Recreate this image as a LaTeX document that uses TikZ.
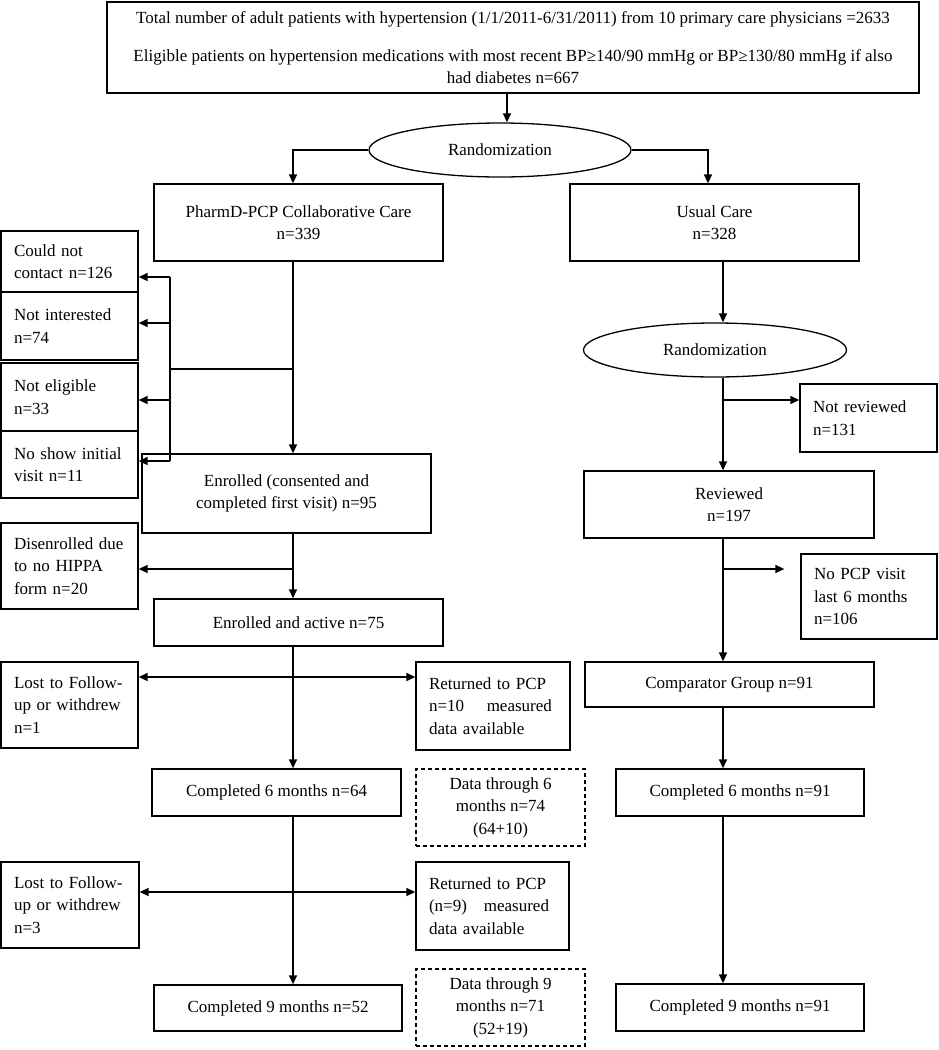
\documentclass[tikz,border=0pt]{standalone}
\usepackage{fontspec}
\setmainfont{Liberation Serif}
\usetikzlibrary{arrows.meta,shapes.geometric}
\begin{document}
\begin{tikzpicture}[x=1pt,y=-1pt,
  every node/.style={font=\fontsize{17}{22.5}\selectfont, inner sep=0pt},
  box/.style={draw, line width=1.3pt, rectangle, align=center},
  lbox/.style={draw, line width=1.3pt, rectangle, align=left, inner xsep=13pt},
  dbox/.style={draw, line width=1.1pt, dash pattern=on 4pt off 3pt, align=center},
  oval/.style={draw, line width=1.3pt, ellipse},
  line/.style={line width=1.4pt},
  arr/.style={line width=1.4pt, -{Triangle[length=9pt,width=8pt]}},
  darr/.style={line width=1.4pt, {Triangle[length=9pt,width=8pt]}-{Triangle[length=9pt,width=8pt]}},
]
\useasboundingbox (0,0) rectangle (938,1050);

% top
\node[box, minimum width=812, minimum height=91] (top) at (513,47.5)
  {Total number of adult patients with hypertension (1/1/2011-6/31/2011) from 10 primary care physicians =2633\\[15.5pt]
   Eligible patients on hypertension medications with most recent BP≥140/90 mmHg or BP≥130/80 mmHg if also\\
   had diabetes n=667};
\node[oval, minimum width=262, minimum height=54] (r1) at (500,150) {Randomization};
\node[box, minimum width=289, minimum height=77] (pharm) at (298.5,222.5) {PharmD-PCP Collaborative Care\\n=339};
\node[box, minimum width=289, minimum height=77] (usual) at (714.5,222.5) {Usual Care\\n=328};

% left exclusions
\node[lbox, text width=111, minimum height=61] (c1) at (69.5,261.5) {Could not\\contact n=126};
\node[lbox, text width=111, minimum height=68] (c2) at (69.5,326) {Not interested\\n=74};
\node[lbox, text width=111, minimum height=68] (c3) at (69.5,397) {Not eligible\\n=33};
\node[lbox, text width=111, minimum height=67] (c4) at (69.5,464.5) {No show initial\\visit n=11};
\node[box, minimum width=289, minimum height=79] (enr) at (286.5,493.5) {Enrolled (consented and\\completed first visit) n=95};
\node[lbox, text width=111, minimum height=86] (dis) at (69.5,566) {Disenrolled due\\to no HIPPA\\form n=20};
\node[box, minimum width=289, minimum height=47] (act) at (298.5,622.5) {Enrolled and active n=75};
\node[lbox, text width=111, minimum height=86] (lost1) at (69.5,705) {Lost to Follow-\\up or withdrew\\n=1};
\node[lbox, text width=128, minimum height=88] (ret1) at (493,706) {Returned to PCP\\n=10\ \ \ \ measured\\data available};
\node[box, minimum width=249, minimum height=47] (comp6) at (276.5,792.5) {Completed 6 months n=64};
\node[dbox, minimum width=169, minimum height=77] (data6) at (500.5,807.5) {Data through 6\\months n=74\\(64+10)};
\node[lbox, text width=112, minimum height=86] (lost2) at (70,905) {Lost to Follow-\\up or withdrew\\n=3};
\node[lbox, text width=127, minimum height=88] (ret2) at (492.5,906) {Returned to PCP\\(n=9)\ \ \ measured\\data available};
\node[box, minimum width=248, minimum height=46] (comp9) at (278,1008) {Completed 9 months n=52};
\node[dbox, minimum width=169, minimum height=77] (data9) at (500.5,1007.5) {Data through 9\\months n=71\\(52+19)};

% right column
\node[oval, minimum width=263, minimum height=54] (r2) at (715,350) {Randomization};
\node[lbox, text width=111, minimum height=68] (notrev) at (868.5,418) {Not reviewed\\n=131};
\node[box, minimum width=290, minimum height=67] (rev) at (729,504.5) {Reviewed\\n=197};
\node[lbox, text width=110, minimum height=85] (nopcp) at (869,596.5) {No PCP visit\\last 6 months\\n=106};
\node[box, minimum width=289, minimum height=45] (compg) at (729.5,684.5) {Comparator Group n=91};
\node[box, minimum width=248, minimum height=47] (rc6) at (740,792.5) {Completed 6 months n=91};
\node[box, minimum width=248, minimum height=47] (rc9) at (740,1007.5) {Completed 9 months n=91};

% helper coordinates
\coordinate (xa) at (507,0);
\coordinate (xl) at (293,0);
\coordinate (xu) at (708,0);
\coordinate (xr) at (723,0);
\coordinate (j1) at (170,369);
\coordinate (b1) at (170,277);
\coordinate (b2) at (170,323);
\coordinate (b3) at (170,400);
\coordinate (b4) at (170,461);
\coordinate (j2) at (293,569);
\coordinate (j3) at (293,677);
\coordinate (j4) at (293,892);
\coordinate (j5) at (723,400);
\coordinate (j6) at (723,569);

% connectors
\draw[arr] (top.south -| xa) -- (r1.north -| xa);
\draw[arr] (r1.west) -| (pharm.north -| xl);
\draw[arr] (r1.east) -| (usual.north -| xu);

\draw[arr] (pharm.south -| xl) -- (enr.north -| xl);
\draw[line] (xl |- j1) -- (j1);
\draw[line] (b1) -- (b4);
\draw[arr] (b1) -- (b1 -| c1.east);
\draw[arr] (b2) -- (b2 -| c2.east);
\draw[arr] (b3) -- (b3 -| c3.east);
\draw[arr] (b4) -- (b4 -| c4.east);

\draw[arr] (enr.south -| xl) -- (act.north -| xl);
\draw[arr] (j2) -- (j2 -| dis.east);
\draw[arr] (act.south -| xl) -- (comp6.north -| xl);
\draw[darr] (j3 -| lost1.east) -- (j3 -| ret1.west);
\draw[arr] (comp6.south -| xl) -- (comp9.north -| xl);
\draw[darr] (j4 -| lost2.east) -- (j4 -| ret2.west);

\draw[arr] (usual.south -| xr) -- (r2.north -| xr);
\draw[arr] (r2.south -| xr) -- (rev.north -| xr);
\draw[arr] (j5) -- (j5 -| notrev.west);
\draw[arr] (rev.south -| xr) -- (compg.north -| xr);
\draw[arr, shorten >=16pt] (j6) -- (j6 -| nopcp.west);
\draw[arr] (compg.south -| xr) -- (rc6.north -| xr);
\draw[arr] (rc6.south -| xr) -- (rc9.north -| xr);
\end{tikzpicture}
\end{document}
